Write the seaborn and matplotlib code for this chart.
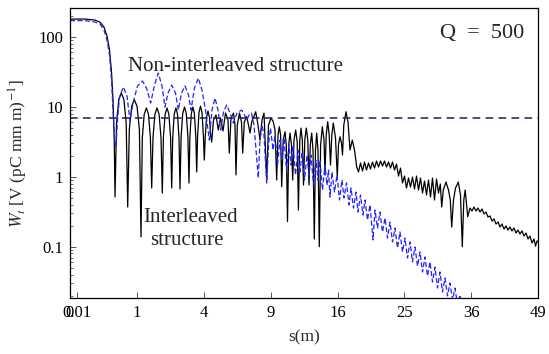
import numpy as np
import matplotlib
matplotlib.use("Agg")
import matplotlib.pyplot as plt
from matplotlib.ticker import FixedLocator, NullLocator, LogLocator, NullFormatter
import seaborn as sns

# Interleaved structure (solid black)
s_inter = [0, 0.05, 0.14, 0.201, 0.258, 0.306, 0.349, 0.385, 0.413, 0.437, 0.453,
           0.4831, 0.5321, 0.588, 0.6491, 0.7057, 0.744,
           0.7857, 0.8506, 0.9238, 1.003, 1.0761, 1.126,
           1.168, 1.2302, 1.3042, 1.3769, 1.4443, 1.491,
           1.5392, 1.6105, 1.6912, 1.7738, 1.8502, 1.904,
           1.9491, 2.0207, 2.1023, 2.1855, 2.2612, 2.311,
           2.3566, 2.426, 2.5058, 2.582, 2.6546, 2.704,
           2.7579, 2.8379, 2.9293, 3.0221, 3.1058, 3.164,
           3.2121, 3.2876, 3.3748, 3.4577, 3.536, 3.587,
           3.6379, 3.7182, 3.8052, 3.8931, 3.9762, 4.030,
           4.0842, 4.1631, 4.2551, 4.348, 4.4295, 4.486,
           4.601, 4.763,
           4.914, 5.061, 5.230, 5.403, 5.578, 5.670, 5.792, 5.973, 6.083, 6.157,
           6.254, 6.419, 6.572, 6.664, 6.788, 6.976, 7.119, 7.239, 7.377, 7.705,
           7.897, 8.066, 8.237, 8.409, 8.645, 8.804, 9.027, 9.235, 9.390, 9.546,
           9.667, 9.788, 9.910, 10.014, 10.156, 10.328, 10.454, 10.570, 10.687,
           10.814, 10.962, 11.081, 11.211, 11.382, 11.534, 11.656, 11.799, 11.923,
           12.057, 12.182, 12.318, 12.476, 12.635, 12.763, 12.902, 13.053, 13.194,
           13.335, 13.466, 13.598, 13.742, 13.887, 14.032, 14.223, 14.415, 14.529,
           14.666, 14.838, 15.011, 15.162, 15.314, 15.490, 15.750, 15.964, 16.108,
           16.288, 16.470, 16.591, 16.750, 17.020, 17.268, 17.517, 17.806, 18.085,
           18.366, 18.597, 18.856, 19.116, 19.378, 19.643, 19.908, 20.176, 20.446,
           20.717, 20.990, 21.265, 21.541, 21.820, 22.100, 22.382, 22.666, 22.951,
           23.239, 23.528, 23.819, 24.111, 24.406, 24.702, 25.000, 25.300, 25.602,
           25.905, 26.210, 26.517, 26.826, 27.136, 27.449, 27.763, 28.079, 28.397,
           28.716, 29.037, 29.361, 29.686, 30.012, 30.341, 30.638, 30.870, 31.136,
           31.588, 32.010, 32.315, 32.553, 32.861, 33.205, 33.688, 34.071, 34.386,
           34.650, 34.897, 35.339, 35.749, 36.108, 36.468, 36.830, 37.194, 37.559,
           37.927, 38.296, 38.667, 39.039, 39.414, 39.790, 40.168, 40.548, 40.930,
           41.313, 41.698, 42.085, 42.474, 42.864, 43.257, 43.651, 44.047, 44.444,
           44.844, 45.245, 45.648, 46.053, 46.460, 46.868, 47.278, 47.690, 48.104,
           48.416, 48.728, 49.0]
w_inter = [179, 179, 173, 162, 137.6, 102, 64.6, 31.3, 12.5, 3.34, 0.513,
           5.8, 12.7, 15.7, 12.7, 5.8, 0.369,
           4.7, 10.2, 12.6, 10.2, 4.7, 0.138,
           3.6, 7.8, 9.6, 7.8, 3.6, 0.69,
           3.6, 7.8, 9.6, 7.8, 3.6, 0.585,
           3.6, 7.8, 9.6, 7.8, 3.6, 0.69,
           3.6, 7.8, 9.6, 7.8, 3.6, 0.667,
           3.7, 8.0, 9.9, 8.0, 3.7, 0.813,
           3.7, 8.0, 9.9, 8.0, 3.7, 1.17,
           3.8, 8.3, 10.2, 8.3, 3.8, 1.73,
           3.6, 7.0, 8.7, 7.0, 3.8, 3.13,
           6.46, 7.61,
           4.65, 6.9, 4.5, 8.13, 6.46, 2.18, 6.9, 8.13, 5.48, 1.06,
           5.48, 8.13, 6.05, 2.18, 6.05, 7.2, 5.48, 4.21, 6.05, 8.48,
           5.48, 3.34, 6.46, 8.13, 0.897, 5.48, 6.9, 6.11, 4.65, 0.897,
           3.94, 5.18, 3.94, 0.72, 3.34, 4.39, 2.84, 0.228, 2.84,
           4.21, 2.84, 0.897, 3.34, 4.65, 3.13, 0.334, 3.34, 4.96,
           3.34, 0.761, 3.34, 4.96, 3.34, 0.761, 2.84, 4.21, 2.41,
           0.129, 2.41, 4.21, 2.41, 0.1, 2.84, 5.18, 3.34, 1.06,
           3.94, 6.11, 3.94, 1.47, 3.94, 5.85, 3.57, 0.99, 2.84,
           3.73, 3.03, 2.04, 5.48, 8.48, 6.05, 2.41, 3.34, 2.41,
           1.376, 1.17, 1.57, 1.206, 1.62, 1.246, 1.57, 1.288, 1.62,
           1.331, 1.675, 1.376, 1.675, 1.42, 1.675, 1.376, 1.62, 1.331,
           1.62, 1.246, 1.52, 1.023, 1.331, 0.813, 1.023, 0.69, 0.958,
           0.713, 0.99, 0.667, 1.023, 0.646, 0.958, 0.585, 0.868, 0.548,
           0.897, 0.513, 0.958, 0.465, 0.927, 0.585, 0.787, 0.369, 0.646,
           0.84, 0.646, 0.465, 0.191, 0.465, 0.69, 0.84, 0.548, 0.1,
           0.465, 0.646, 0.268, 0.357, 0.324, 0.369, 0.324, 0.357, 0.313,
           0.346, 0.293, 0.313, 0.266, 0.275, 0.233, 0.249, 0.211, 0.225,
           0.191, 0.211, 0.179, 0.198, 0.173, 0.191, 0.168, 0.185, 0.157,
           0.173, 0.152, 0.168, 0.142, 0.157, 0.129, 0.142, 0.113, 0.129,
           0.102, 0.121, 0.117]

# Non-interleaved structure (blue dashed)
s_non = [0, 0.05, 0.14, 0.201, 0.258, 0.306, 0.349, 0.385, 0.413, 0.443, 0.473,
         0.504, 0.548, 0.635, 0.726, 0.804, 0.887, 1.018, 1.174, 1.308, 1.455,
         1.595, 1.742, 1.891, 2.017, 2.146, 2.311, 2.487, 2.621, 2.778, 2.955,
         3.138, 3.271, 3.463, 3.678, 3.893, 4.102, 4.336, 4.505, 4.698, 4.894,
         5.074, 5.265, 5.486, 5.720, 5.958, 6.231, 6.587, 6.804, 6.976, 7.159,
         7.360, 7.565, 7.730, 7.922, 8.066, 8.237, 8.409, 8.645, 8.804, 8.982,
         9.208, 9.390, 9.620, 9.853, 10.042, 10.232, 10.473, 10.716, 10.913,
         11.111, 11.362, 11.615, 11.820, 12.026, 12.287, 12.550, 12.763, 12.977,
         13.248, 13.521, 13.742, 13.965, 14.245, 14.529, 14.758, 14.930, 15.104,
         15.337, 15.631, 15.928, 16.228, 16.530, 16.774, 17.082, 17.392, 17.643,
         17.958, 18.276, 18.532, 18.856, 19.182, 19.444, 19.775, 20.109, 20.513,
         20.785, 21.127, 21.472, 21.820, 22.170, 22.524, 22.880, 23.239, 23.600,
         23.965, 24.332, 24.702, 25.075, 25.450, 25.829, 26.210, 26.594, 26.981,
         27.371, 27.763, 28.158, 28.556, 28.957, 29.361, 29.767, 30.176, 30.588,
         31.003, 31.420, 31.841, 32.264, 32.690, 33.118, 33.550, 33.984, 34.422]
w_non = [170, 170, 162, 152, 124.6, 89.7, 54.8, 24.1, 8.97, 3.57, 2.66,
         6.46, 13.8, 19.1, 14.2, 6.25, 11.3, 19.8, 23.3, 18.5, 11.3,
         20.4, 30.3, 19.8, 9.9, 15.7, 20.4, 15.7, 8.97, 15.7, 19.8,
         14.7, 8.97, 18.5, 25.7, 17.3, 8.97, 3.34, 8.97, 13.3, 8.97,
         4.65, 8.4, 10.6, 8.13, 5.85, 8.13, 8.97, 7.61, 6.46, 7.61,
         8.13, 5.48, 2.41, 0.958, 3.34, 5.48, 3.94, 0.813, 2.84, 4.96,
         2.41, 3.94, 1.47, 3.34, 1.73, 3.57, 1.246, 2.84, 1.47,
         2.84, 1.06, 2.41, 1.17, 2.25, 0.897, 2.04, 1.06, 2.04,
         0.761, 1.73, 0.897, 1.73, 0.646, 1.47, 0.761, 1.246, 0.513,
         1.17, 0.605, 1.06, 0.465, 0.897, 0.496, 0.813, 0.396, 0.69,
         0.357, 0.605, 0.313, 0.548, 0.284, 0.465, 0.241, 0.396, 0.125,
         0.335, 0.185, 0.313, 0.162, 0.257, 0.133, 0.225, 0.117, 0.185,
         0.0958, 0.162, 0.084, 0.133, 0.069, 0.117, 0.0605, 0.099, 0.053,
         0.084, 0.0435, 0.0713, 0.0381, 0.0605, 0.0313, 0.0513, 0.0257, 0.0435,
         0.0225, 0.0357, 0.0198, 0.0303, 0.0173, 0.0257, 0.0147, 0.0204, 0.0125]

w_level = 6.8
x_ticks = [0, 0.01, 1, 4, 9, 16, 25, 36, 49]
x_labels = ["0", "0.01", "1", "4", "9", "16", "25", "36", "49"]
y_ticks = [0.1, 1, 10, 100]
y_labels = ["0.1", "1", "10", "100"]

sns.set_style("ticks")
plt.rcParams["font.family"] = ["Liberation Serif", "DejaVu Serif"]
plt.rcParams["mathtext.fontset"] = "stix"

fig = plt.figure(figsize=(5.49, 3.54), dpi=100)
ax = fig.add_axes([70 / 549, 1 - 298 / 354, 468.3 / 549, 289.7 / 354])

ax.set_xscale("function", functions=(lambda x: np.sqrt(np.clip(x, 0, None)),
                                     lambda x: np.square(x)))
ax.set_yscale("log")

sns.lineplot(x=s_inter, y=w_inter, ax=ax, color="black", linewidth=0.9,
             sort=False, estimator=None)
sns.lineplot(x=s_non, y=w_non, ax=ax, color="#2222ff", linewidth=0.9,
             sort=False, estimator=None, linestyle=(0, (4, 2)))
ax.axhline(w_level, color="#1c1c5a", linewidth=1.1, linestyle=(0, (5, 3.5)))

ax.set_xlim(0, 49)
ax.set_ylim(0.0185, 255)

ax.xaxis.set_major_locator(FixedLocator(x_ticks))
ax.set_xticklabels(x_labels)
ax.xaxis.set_minor_locator(NullLocator())
ax.yaxis.set_major_locator(FixedLocator(y_ticks))
ax.set_yticklabels(y_labels)
ax.yaxis.set_minor_locator(LogLocator(base=10, subs=np.arange(2, 10)))
ax.yaxis.set_minor_formatter(NullFormatter())

ax.tick_params(axis="both", which="major", direction="in", length=4, width=0.7,
               color="#555555", labelsize=12, labelcolor="black", pad=5)
ax.tick_params(axis="y", which="minor", direction="in", length=2.2, width=0.6,
               color="#555555")
for sp in ax.spines.values():
    sp.set_color("black")
    sp.set_linewidth(0.9)

ax.set_xlabel("s(m)", fontsize=12.5, labelpad=6)
ax.set_ylabel(r"$W_t$ [V (pC mm m)$^{-1}$]", fontsize=12.5, labelpad=6)

ax.text(0.79, 0.897, "Q\u2002=\u2002500", transform=ax.transAxes, fontsize=16,
        va="baseline", ha="left")
ax.text(0.124, 0.784, "Non-interleaved structure", transform=ax.transAxes,
        fontsize=15, va="baseline", ha="left")
ax.text(0.1565, 0.263, "Interleaved", transform=ax.transAxes, fontsize=15,
        va="baseline", ha="left")
ax.text(0.171, 0.183, "structure", transform=ax.transAxes, fontsize=15,
        va="baseline", ha="left")

fig.savefig("out.png", dpi=100)
